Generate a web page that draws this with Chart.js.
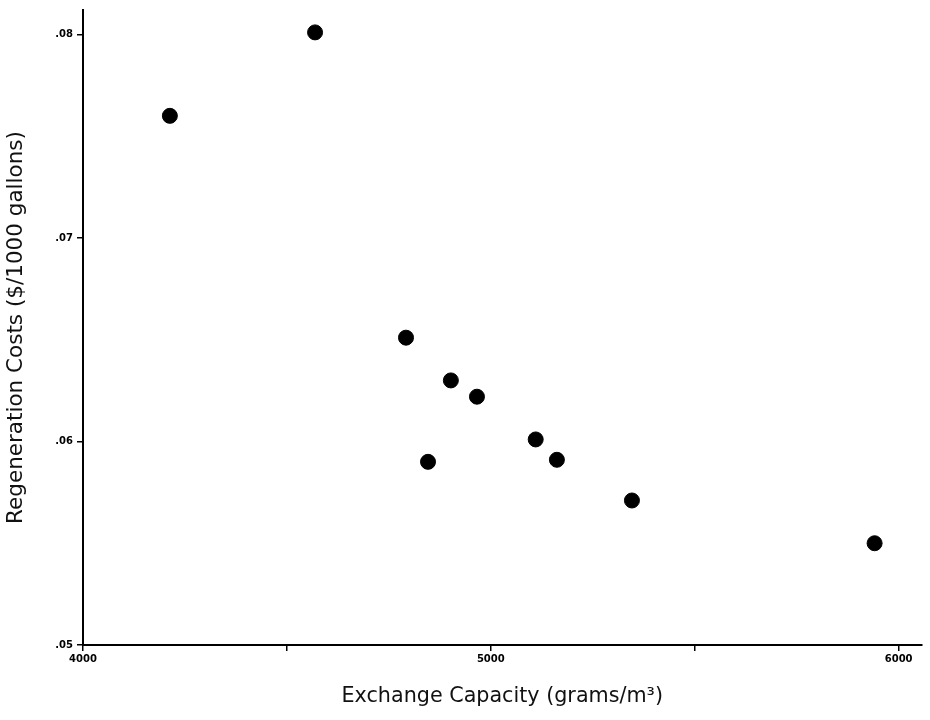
<!DOCTYPE html>
<html>
<head>
<meta charset="utf-8">
<script src="https://cdn.jsdelivr.net/npm/chart.js@4"></script>
<style>
  html, body { margin: 0; padding: 0; background: #fff; }
  #wrap { width: 930px; height: 720px; }
</style>
</head>
<body>
<div id="wrap"><canvas id="c" width="930" height="720"></canvas></div>
<script>
// Data
const exchangeCapacity = [4213, 4569, 4792, 4846, 4902, 4966, 5110, 5162, 5346, 5941];
const regenerationCost = [0.0760, 0.0801, 0.0651, 0.0590, 0.0630, 0.0622, 0.0601, 0.0591, 0.0571, 0.0550];
const xTickValues = [4000, 4500, 5000, 5500, 6000];
const xTickLabels = ['4000', '', '5000', '', '6000'];
const yTickValues = [0.05, 0.06, 0.07, 0.08];
const yTickLabels = ['.05', '.06', '.07', '.08'];

const points = exchangeCapacity.map((x, i) => ({ x: x, y: regenerationCost[i] }));

const TITLE_FONT = "'DejaVu Sans', 'Liberation Sans', Arial, sans-serif";
const TICK_FONT = "'DejaVu Sans', 'Liberation Sans', Arial, sans-serif";

new Chart(document.getElementById('c'), {
  type: 'scatter',
  data: {
    datasets: [{
      data: points,
      backgroundColor: '#000',
      borderColor: '#000',
      pointRadius: 7.5,
      pointHoverRadius: 7.5
    }]
  },
  options: {
    responsive: false,
    animation: false,
    devicePixelRatio: 1,
    layout: { padding: { top: 8, right: 0, left: 0, bottom: 0 } },
    plugins: { legend: { display: false }, tooltip: { enabled: false } },
    scales: {
      x: {
        type: 'linear',
        min: 4000,
        max: 6056,
        afterBuildTicks: s => { s.ticks = xTickValues.map(v => ({ value: v })); },
        afterFit: s => { s.height = 75; },
        ticks: {
          autoSkip: false,
          maxRotation: 0,
          padding: 2,
          color: '#000',
          font: { family: TICK_FONT, size: 10, weight: 'bold' },
          callback: (v) => { const i = xTickValues.indexOf(v); return i >= 0 ? xTickLabels[i] : ''; }
        },
        grid: { display: true, drawOnChartArea: false, drawTicks: true, tickLength: 6, color: '#000', lineWidth: 1.5 },
        border: { display: true, color: '#000', width: 2 },
        title: {
          display: true,
          text: 'Exchange Capacity (grams/m³)',
          color: '#111',
          font: { family: TITLE_FONT, size: 20.7 },
          padding: { top: 0, bottom: 11 }
        }
      },
      y: {
        type: 'linear',
        min: 0.05,
        max: 0.0812,
        afterBuildTicks: s => { s.ticks = yTickValues.map(v => ({ value: v })); },
        afterFit: s => { s.width = 83; },
        ticks: {
          autoSkip: false,
          padding: 4,
          color: '#000',
          font: { family: TICK_FONT, size: 10, weight: 'bold' },
          callback: (v) => { const i = yTickValues.findIndex(t => Math.abs(t - v) < 1e-9); return i >= 0 ? yTickLabels[i] : ''; }
        },
        grid: { display: true, drawOnChartArea: false, drawTicks: true, tickLength: 6, color: '#000', lineWidth: 1.5 },
        border: { display: true, color: '#000', width: 2 },
        title: {
          display: true,
          text: 'Regeneration Costs ($/1000 gallons)',
          color: '#111',
          font: { family: TITLE_FONT, size: 21.5 },
          padding: { top: 4, bottom: 0 }
        }
      }
    }
  }
});
</script>
</body>
</html>
